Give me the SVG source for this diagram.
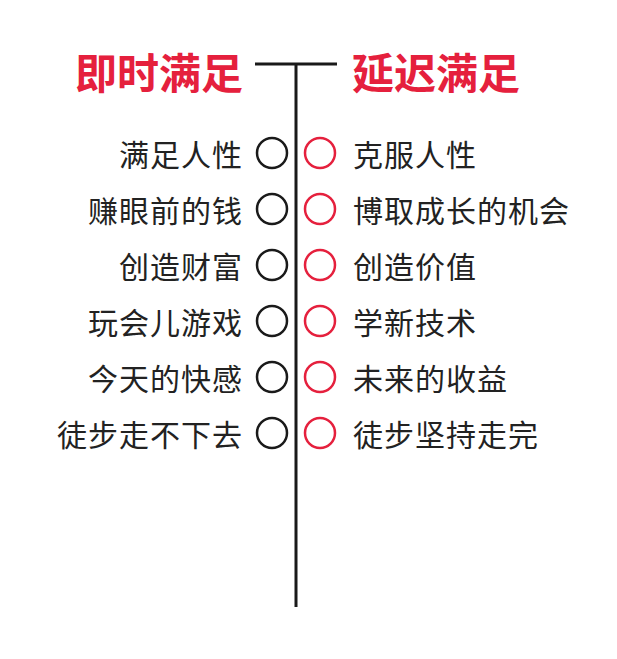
<svg xmlns="http://www.w3.org/2000/svg" width="617" height="659" viewBox="0 0 617 659">
<style>
.t{font-family:"Noto Sans CJK SC","Noto Sans",sans-serif;font-size:30px;fill:#222;dominant-baseline:central;letter-spacing:1px}
.l{text-anchor:end}
.h{font-family:"Noto Sans CJK SC","Noto Sans",sans-serif;font-size:42px;font-weight:bold;fill:#e5203d;dominant-baseline:central}
.cb{fill:none;stroke:#1a1a1a;stroke-width:2.5}
.cr{fill:none;stroke:#e5203d;stroke-width:2.5}
.ln{stroke:#1a1a1a;stroke-width:3;fill:none}
</style>
<rect width="617" height="659" fill="#fff"/>
<g id="connectors">
<line class="ln" x1="255" y1="64" x2="337" y2="64"/>
<line class="ln" x1="296" y1="64" x2="296" y2="607"/>
</g>
<g id="title-left"><text class="h" x="243" y="70" text-anchor="end">即时满足</text></g>
<g id="title-right"><text class="h" x="352" y="70">延迟满足</text></g>
<g id="row1">
<text class="t l" x="243" y="153">满足人性</text><circle class="cb" cx="272" cy="153" r="15"/>
<circle class="cr" cx="320" cy="153" r="15"/><text class="t" x="353" y="153">克服人性</text>
</g>
<g id="row2">
<text class="t l" x="243" y="209">赚眼前的钱</text><circle class="cb" cx="272" cy="209" r="15"/>
<circle class="cr" cx="320" cy="209" r="15"/><text class="t" x="353" y="209">博取成长的机会</text>
</g>
<g id="row3">
<text class="t l" x="243" y="265">创造财富</text><circle class="cb" cx="272" cy="265" r="15"/>
<circle class="cr" cx="320" cy="265" r="15"/><text class="t" x="353" y="265">创造价值</text>
</g>
<g id="row4">
<text class="t l" x="243" y="321">玩会儿游戏</text><circle class="cb" cx="272" cy="321" r="15"/>
<circle class="cr" cx="320" cy="321" r="15"/><text class="t" x="353" y="321">学新技术</text>
</g>
<g id="row5">
<text class="t l" x="243" y="377">今天的快感</text><circle class="cb" cx="272" cy="377" r="15"/>
<circle class="cr" cx="320" cy="377" r="15"/><text class="t" x="353" y="377">未来的收益</text>
</g>
<g id="row6">
<text class="t l" x="243" y="433">徒步走不下去</text><circle class="cb" cx="272" cy="433" r="15"/>
<circle class="cr" cx="320" cy="433" r="15"/><text class="t" x="353" y="433">徒步坚持走完</text>
</g>
</svg>
